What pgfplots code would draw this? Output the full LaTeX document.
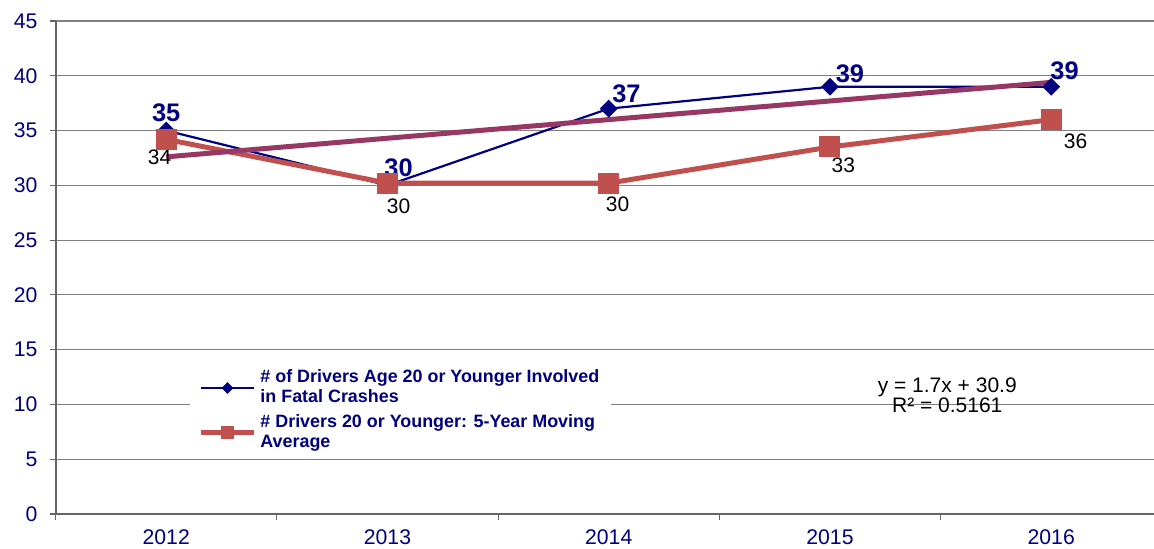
\documentclass[border=0pt]{standalone}
\usepackage{fontspec}
\setmainfont{Liberation Sans}
\usepackage{pgfplots}
\pgfplotsset{compat=1.18}
\definecolor{navyc}{RGB}{0,0,128}
\definecolor{redc}{RGB}{192,80,77}
\definecolor{trendc}{RGB}{150,55,100}
\definecolor{gridc}{RGB}{128,128,128}
\begin{document}
\begin{tikzpicture}[x=1pt,y=1pt]
\useasboundingbox (-27.8,-17) rectangle (549.2,257);
\begin{axis}[
  at={(0,0)}, anchor=south west,
  scale only axis, width=549.2pt, height=246.5pt,
  xmin=-0.5, xmax=4.4645, ymin=0, ymax=45,
  axis x line*=bottom, axis y line*=left,
  axis line style={draw=black!60, line width=0.9pt},
  tick align=outside, major tick length=3pt,
  tick style={draw=black!60, line width=0.6pt},
  ytick={0,5,...,45},
  ymajorgrids, grid style={gridc, line width=0.6pt},
  xtick={-0.5,0.5,1.5,2.5,3.5}, xticklabels={},
  extra x ticks={0,1,2,3,4},
  extra x tick labels={2012,2013,2014,2015,2016},
  extra x tick style={major tick length=0pt, xticklabel style={yshift=-4.5pt}},
  /pgf/number format/assume math mode=true,
  ticklabel style={font=\fontsize{10.6}{12}\selectfont, text=navyc},
  yticklabel style={xshift=-2.5pt},
  legend style={at={(rel axis cs:0.1224,0.301)}, anchor=north west,
    draw=none, fill=white, inner xsep=4pt, inner ysep=0pt,
    font=\bfseries\fontsize{8.95}{10}\selectfont, text=navyc,
    row sep=0.5pt, cells={align=left}},
  legend cell align=left,
  legend image code/.code={\draw[mark repeat=2,mark phase=2] plot coordinates {(0pt,0pt) (13.25pt,0pt) (26.5pt,0pt)};},
  clip=false,
]
\addplot[navyc, line width=1.1pt, mark=square*, mark size=2.6pt, mark options={rotate=45}, forget plot]
  coordinates {(0,35) (1,30) (2,37) (3,39) (4,39)};
\addplot[redc, line width=2.5pt, mark=square*, mark size=5pt, mark options={line width=0pt}, forget plot]
  coordinates {(0,34.2) (1,30.2) (2,30.2) (3,33.5) (4,36.0)};
\addplot[trendc, line width=2.5pt, forget plot]
  coordinates {(0,32.6) (4,39.4)};
\addlegendimage{navyc, line width=1pt, mark=square*, mark size=1.6pt, mark options={rotate=45}}
\addlegendentry{\# of Drivers Age 20 or Younger Involved\\in Fatal Crashes}
\addlegendimage{redc, line width=2.5pt, mark=square*, mark size=3pt, mark options={line width=0pt}}
\addlegendentry{\# Drivers 20 or Younger: 5-Year Moving\\Average}
% data labels, series 1
\begin{scope}[every node/.style={font=\bfseries\fontsize{12.7}{13}\selectfont, text=navyc}]
\node at (axis cs:0,36.6) {35};
\node at (axis cs:1.05,31.6) {30};
\node at (axis cs:2.08,38.4) {37};
\node at (axis cs:3.09,40.2) {39};
\node at (axis cs:4.06,40.5) {39};
\end{scope}
% data labels, series 2
\begin{scope}[every node/.style={font=\fontsize{10.5}{12}\selectfont, text=black}]
\node at (axis cs:-0.03,32.6) {34};
\node at (axis cs:1.05,28.1) {30};
\node at (axis cs:2.04,28.3) {30};
\node at (axis cs:3.06,31.8) {33};
\node at (axis cs:4.11,34.0) {36};
\end{scope}
\node[align=center, font=\fontsize{10.5}{10}\selectfont, text=black] at (axis cs:3.53,10.86) {y = 1.7x + 30.9\\R² = 0.5161};
\end{axis}
\end{tikzpicture}
\end{document}
